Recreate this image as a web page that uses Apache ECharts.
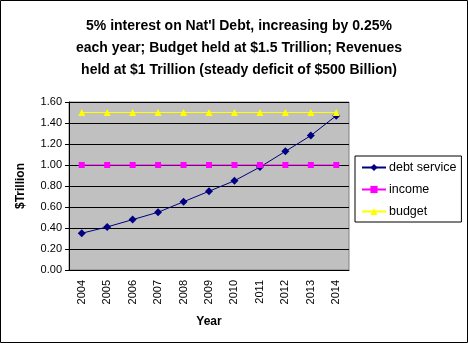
<!DOCTYPE html>
<html lang="en">
<head>
<meta charset="UTF-8">
<title>Nat'l Debt service</title>
<script src="https://cdn.jsdelivr.net/npm/echarts@6/dist/echarts.min.js"></script>
</head>
<body style="margin:0;background:#fff;">
<div id="main" style="width:468px;height:343px;"></div>
<script>
var years = ['2004','2005','2006','2007','2008','2009','2010','2011','2012','2013','2014'];
var debtService = [0.35, 0.41, 0.48, 0.55, 0.65, 0.75, 0.85, 0.98, 1.13, 1.28, 1.47];
var income = [1, 1, 1, 1, 1, 1, 1, 1, 1, 1, 1];
var budget = [1.5, 1.5, 1.5, 1.5, 1.5, 1.5, 1.5, 1.5, 1.5, 1.5, 1.5];

var chart = echarts.init(document.getElementById('main'));

var option = {
    backgroundColor: '#ffffff',
    animation: false,
    textStyle: { fontFamily: 'Liberation Sans, Arial, sans-serif' },
    title: {
        text: "5% interest on Nat'l Debt, increasing by 0.25%\neach year; Budget held at $1.5 Trillion; Revenues\nheld at $1 Trillion (steady deficit of $500 Billion)",
        left: 234,
        textAlign: 'center',
        top: 10,
        textStyle: { fontSize: 14, fontWeight: 'bold', color: '#000', lineHeight: 22 }
    },
    graphic: [{
        type: 'rect',
        shape: { x: 0.5, y: 0.5, width: 467, height: 342 },
        style: { fill: 'none', stroke: '#000', lineWidth: 1 },
        silent: true
    }],
    legend: {
        orient: 'vertical',
        left: 355,
        top: 156,
        borderColor: '#000',
        borderWidth: 1,
        borderRadius: 0,
        padding: [5, 5, 4, 6],
        itemGap: 9,
        itemWidth: 24,
        itemHeight: 9,
        textStyle: { fontSize: 12.5, color: '#000', padding: [0, 0, 0, -2] },
        data: ['debt service', 'income', 'budget']
    },
    grid: { left: 69, right: 119, top: 102, bottom: 73, show: true, backgroundColor: '#C0C0C0', borderColor: '#808080', borderWidth: 1 },
    xAxis: {
        type: 'category',
        data: years,
        boundaryGap: true,
        name: 'Year',
        nameLocation: 'middle',
        nameGap: 46,
        nameTextStyle: { fontSize: 12, fontWeight: 'bold', color: '#000' },
        axisLine: { lineStyle: { color: '#000' } },
        axisTick: { alignWithLabel: false, length: 4, lineStyle: { color: '#000' } },
        axisLabel: { rotate: 90, fontSize: 11, color: '#000', margin: 10, interval: 0 }
    },
    yAxis: {
        type: 'value',
        min: 0,
        max: 1.6,
        interval: 0.2,
        name: '$Trillion',
        nameLocation: 'middle',
        nameGap: 42,
        nameRotate: 90,
        nameTextStyle: { fontSize: 12, fontWeight: 'bold', color: '#000' },
        axisLine: { show: true, lineStyle: { color: '#000' } },
        axisTick: { show: true, length: 4, lineStyle: { color: '#000' } },
        axisLabel: { fontSize: 11, color: '#000', margin: 7, formatter: function (v) { return v.toFixed(2); } },
        splitLine: { lineStyle: { color: '#000', width: 1 } }
    },
    series: [
        {
            name: 'debt service',
            type: 'line',
            data: debtService,
            symbol: 'diamond',
            symbolSize: 8,
            itemStyle: { color: '#000080' },
            lineStyle: { color: '#000080', width: 1 }
        },
        {
            name: 'income',
            type: 'line',
            data: income,
            symbol: 'rect',
            symbolSize: 6,
            itemStyle: { color: '#FF00FF' },
            lineStyle: { color: '#FF00FF', width: 1 }
        },
        {
            name: 'budget',
            type: 'line',
            data: budget,
            symbol: 'triangle',
            symbolSize: 7,
            itemStyle: { color: '#FFFF00' },
            lineStyle: { color: '#FFFF00', width: 1 }
        }
    ]
};

chart.setOption(option);
</script>
</body>
</html>
